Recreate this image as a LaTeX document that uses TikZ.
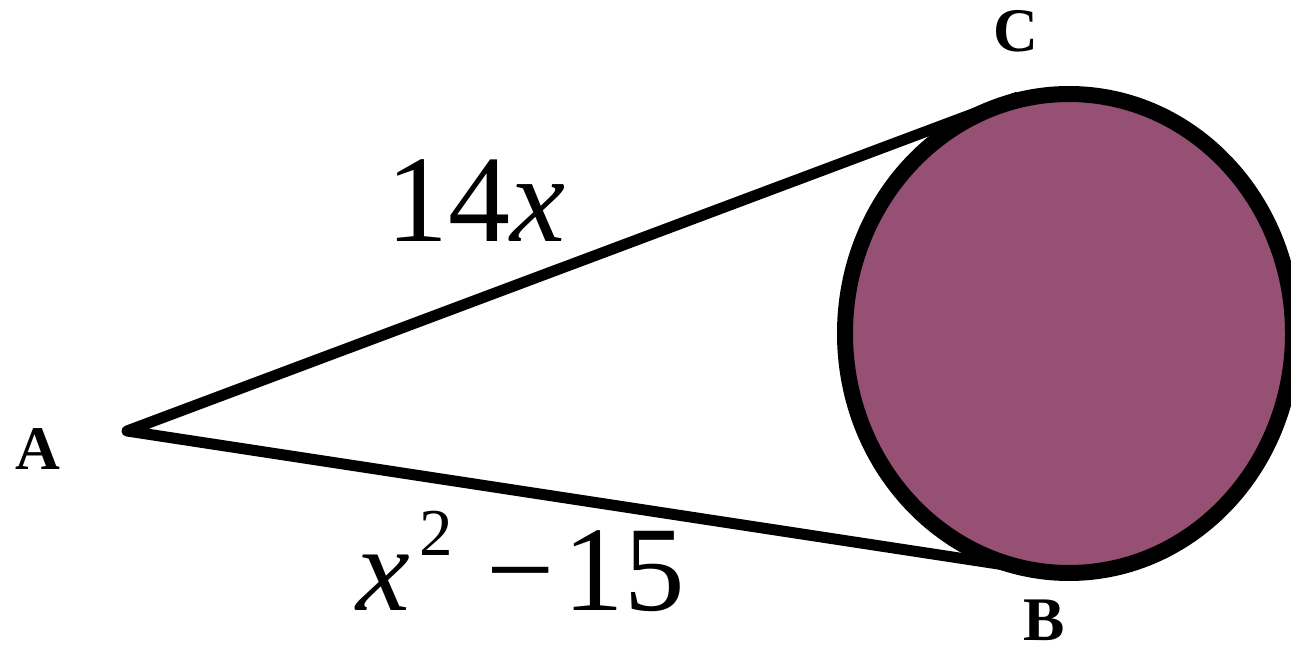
\documentclass[tikz,border=0pt]{standalone}
\usepackage{fontspec}
\setmainfont{Liberation Serif}
\definecolor{discfill}{RGB}{149,80,115}
\tikzset{
  disc/.style={draw=black, line width=16pt, fill=discfill},
  seg/.style={draw=black, line width=11pt, line join=round, line cap=butt},
  ptlabel/.style={inner sep=0pt, anchor=base, font=\fontsize{62}{62}\selectfont\bfseries},
  lenlabel/.style={inner sep=0pt, anchor=base west, font=\fontsize{124}{124}\selectfont}
}
\begin{document}
\begin{tikzpicture}[x=1pt,y=-1pt]
\useasboundingbox (0,0) rectangle (1291,652);
\coordinate (O) at (1069,333.5);
\coordinate (PA) at (127,431);
\coordinate (PB) at (1018,567);
\coordinate (PC) at (1018,97);
\path[disc] (O) ellipse [x radius=224pt, y radius=239.5pt];
\draw[seg] (PB) -- (PA) -- (PC);
\node[ptlabel] (A) at (38,469) {A};
\node[ptlabel] (C) at (1016,52) {C};
\node[ptlabel] (B) at (1044,640) {B};
\node[lenlabel] (L1) at (386,242) {14\textit{x}};
\node[lenlabel, font=\fontsize{121}{121}\selectfont] (L2) at (356,610) {\textit{x}\hspace{10pt}\raisebox{55pt}{\fontsize{67}{67}\selectfont 2}\hspace{33.5pt}−\hspace{8.6pt}15};
\end{tikzpicture}
\end{document}
